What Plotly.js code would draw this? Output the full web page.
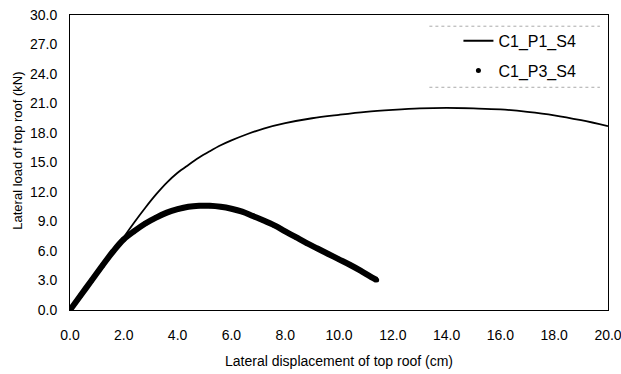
<!DOCTYPE html>
<html>
<head>
<meta charset="utf-8">
<script src="https://cdn.plot.ly/plotly-3.0.1.min.js"></script>
<style>
  html, body { margin: 0; padding: 0; background: #fff; }
  #chart { width: 621px; height: 374px; }
</style>
</head>
<body>
<div id="chart"></div>
<script>
// Lateral displacement (cm) and lateral load (kN) of the top roof
const p1Disp = [0, 0.4, 0.8, 1.2, 1.6, 2.0, 2.4, 2.8, 3.2, 3.6, 4.0, 4.4, 4.8, 5.2, 5.6, 6.0, 6.6, 7.2, 8.0,
                9.0, 10.0, 11.0, 12.0, 13.0, 14.0, 15.0, 16.0, 17.0, 18.0, 19.0, 20.0];
const p1Load = [0, 1.5, 3.0, 4.5, 5.95, 7.4, 8.95, 10.4, 11.75, 12.95, 13.95, 14.75, 15.5, 16.15, 16.75, 17.25, 17.9, 18.45, 19.0,
                19.5, 19.85, 20.15, 20.35, 20.5, 20.55, 20.5, 20.4, 20.15, 19.8, 19.3, 18.7];

const p3Disp = [0, 0.4, 0.8, 1.2, 1.6, 2.0, 2.4, 2.8, 3.2, 3.6, 4.0, 4.4, 4.8, 5.2, 5.6, 6.0,
                6.4, 6.8, 7.2, 7.6, 8.0, 8.4, 8.8, 9.2, 9.6, 10.0, 10.4, 10.8, 11.2, 11.4];
const p3Load = [0, 1.5, 3.0, 4.5, 5.95, 7.2, 8.05, 8.8, 9.4, 9.9, 10.25, 10.5, 10.6, 10.6, 10.5, 10.3,
                10.0, 9.55, 9.1, 8.6, 8.0, 7.4, 6.8, 6.25, 5.7, 5.15, 4.6, 4.0, 3.35, 3.05];

const seriesNames = ['C1_P1_S4', 'C1_P3_S4'];
const xTicks = [0, 2, 4, 6, 8, 10, 12, 14, 16, 18, 20];
const yTicks = [0, 3, 6, 9, 12, 15, 18, 21, 24, 27, 30];

const fontFamily = 'Arial, "Liberation Sans", Helvetica, sans-serif';

const traces = [
  {
    x: p1Disp, y: p1Load, name: seriesNames[0], legendgroup: 'p1',
    mode: 'lines', line: {color: '#000', width: 1.8, shape: 'spline', smoothing: 1}
  },
  {
    // dense test points drawn as a heavy band
    x: p3Disp, y: p3Load, name: seriesNames[1], legendgroup: 'p3', showlegend: false,
    mode: 'lines', line: {color: '#000', width: 6, shape: 'spline', smoothing: 1}
  },
  {
    x: p3Disp, y: p3Load, name: seriesNames[1], legendgroup: 'p3',
    mode: 'markers', marker: {color: '#000', size: 5}
  }
];

const layout = {
  width: 621, height: 374,
  margin: {l: 70, r: 13, t: 15, b: 64},
  paper_bgcolor: '#fff', plot_bgcolor: '#fff',
  font: {family: fontFamily, size: 14, color: '#000'},
  showlegend: true,
  legend: {
    x: 0.722, y: 0.97, xanchor: 'left', yanchor: 'top',
    bgcolor: 'rgba(0,0,0,0)', borderwidth: 0,
    font: {family: fontFamily, size: 16, color: '#000'},
    traceorder: 'grouped', tracegroupgap: 6
  },
  xaxis: {
    range: [0, 20], tickvals: xTicks, ticktext: xTicks.map(v => v.toFixed(1)),
    showgrid: false, zeroline: false, ticks: '',
    showline: true, mirror: true, linecolor: '#000', linewidth: 1,
    ticklabelstandoff: 12, ticklabeloverflow: 'allow', tickfont: {size: 14}
  },
  yaxis: {
    range: [0, 30], tickvals: yTicks, ticktext: yTicks.map(v => v.toFixed(1)),
    showgrid: false, zeroline: false, ticks: '',
    showline: true, mirror: true, linecolor: '#000', linewidth: 1,
    ticklabelstandoff: 9, tickfont: {size: 14}
  },
  shapes: [
    {type: 'line', xref: 'paper', yref: 'paper', x0: 0.668, x1: 0.985, y0: 0.962, y1: 0.962,
     line: {color: '#aaa', width: 1, dash: 'dot'}},
    {type: 'line', xref: 'paper', yref: 'paper', x0: 0.668, x1: 0.985, y0: 0.755, y1: 0.755,
     line: {color: '#aaa', width: 1, dash: 'dot'}}
  ],
  annotations: [
    {text: 'Lateral displacement of top roof (cm)', xref: 'paper', yref: 'paper',
     x: 0.5, y: 0, yshift: -51, showarrow: false, xanchor: 'center', yanchor: 'middle',
     font: {family: fontFamily, size: 14, color: '#000'}},
    {text: 'Lateral load of top roof (kN)', xref: 'paper', yref: 'paper',
     x: 0, y: 0.54, xshift: -52, showarrow: false, textangle: -90,
     xanchor: 'center', yanchor: 'middle',
     font: {family: fontFamily, size: 13, color: '#000'}}
  ]
};

Plotly.newPlot('chart', traces, layout, {displayModeBar: false, staticPlot: true});
</script>
</body>
</html>
